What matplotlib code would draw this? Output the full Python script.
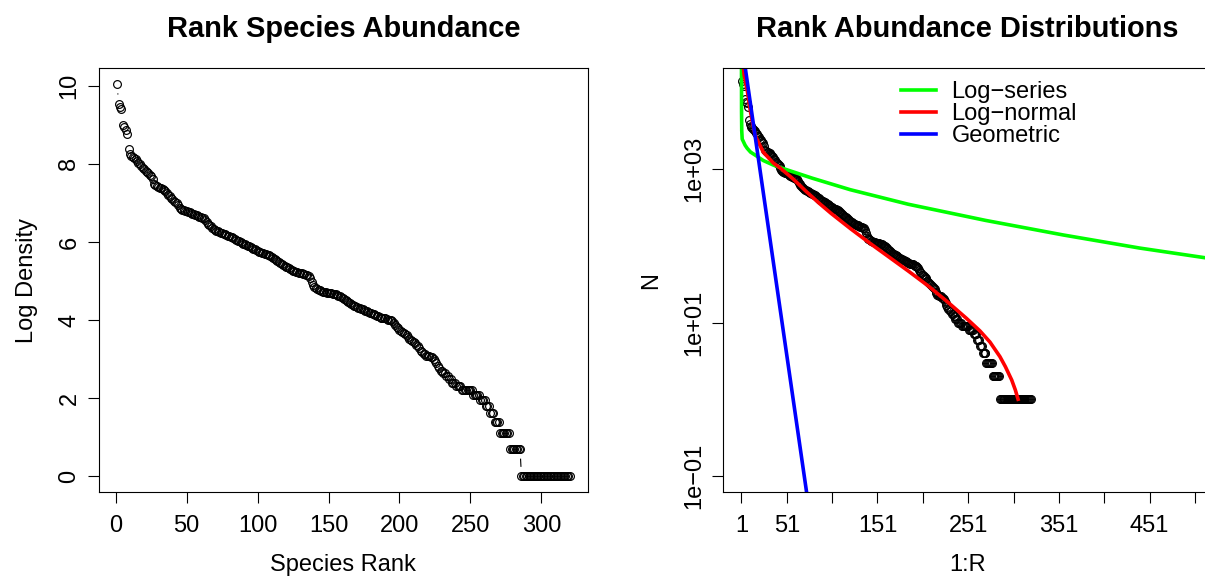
import numpy as np
import matplotlib
matplotlib.use("Agg")
import matplotlib.pyplot as plt
from matplotlib.ticker import NullLocator

plt.rcParams['font.family'] = ['Liberation Sans', 'DejaVu Sans']
plt.rcParams['font.size'] = 17

# abundance of each species, most to least common
abundance = [23000, 13800, 12900, 12200, 8100, 7550, 7130, 6440, 4350, 3820,
             3650, 3560, 3420, 3330, 3200, 3080, 2960, 2840, 2700, 2590,
             2470, 2400, 2330, 2250, 2170, 2020, 1760, 1720, 1680, 1650,
             1620, 1600, 1570, 1530, 1480, 1420, 1350, 1300, 1250, 1200,
             1160, 1120, 1080, 1040, 960, 940, 920, 905, 895, 885,
             875, 860, 845, 830, 815, 805, 795, 785, 770, 760,
             750, 735, 700, 665, 640, 620, 600, 580, 560, 545,
             535, 528, 520, 513, 505, 497, 490, 482, 475, 468,
             460, 452, 443, 435, 425, 417, 408, 400, 393, 386,
             380, 373, 367, 361, 354, 347, 340, 333, 327, 320,
             315, 310, 305, 301, 297, 294, 291, 285, 278, 272,
             266, 260, 253, 246, 240, 234, 228, 223, 218, 214,
             210, 206, 202, 198, 194, 191, 188, 186, 184, 182,
             180, 178, 176, 174, 172, 170, 162, 145, 133, 127,
             124, 121, 119, 117, 115, 113, 112, 111, 110, 110,
             109, 108, 107, 106, 105, 104, 102, 100, 98, 96,
             94, 92, 89, 87, 85, 82, 80, 79, 78, 76,
             75, 74, 73, 72, 70, 69, 68, 67, 66, 65,
             64, 63, 62, 61, 60, 59, 58, 58, 57, 57,
             56, 55, 55, 54, 53, 51, 48, 46, 44, 42,
             41, 40, 39, 38, 37, 35, 34, 33, 32, 31,
             30, 29, 28, 27, 25, 24, 23, 23, 22, 22,
             22, 21, 21, 20, 19, 18, 17, 16, 15, 15,
             14, 14, 13, 13, 12, 12, 11, 11, 11, 10,
             10, 10, 10, 9, 9, 9, 9, 9, 9, 9,
             9, 8, 8, 8, 8, 8, 7, 7, 7, 7,
             6, 6, 6, 5, 5, 5, 4, 4, 4, 4,
             3, 3, 3, 3, 3, 3, 3,
             2, 2, 2, 2, 2, 2, 2, 2] + [1] * 35

# fitted rank-abundance models
logseries_rank = [1, 1.1, 1.3, 1.8, 3, 5, 7.3, 11, 16.4, 25, 36.5, 51, 79, 121, 185, 270, 356, 440, 520]
logseries_n = [39800, 5620, 3160, 2450, 2290, 2040, 1860, 1660, 1510, 1290, 1120, 977, 759, 537, 347, 214, 138, 93.3, 67.6]

lognormal_rank = [2.5, 4, 7.3, 11, 16, 25, 36, 44, 58, 73, 88, 100, 121.5, 143, 164, 185, 207, 227,
                  249, 264, 275, 286, 292, 299, 303, 306]
lognormal_n = [25100, 16600, 10700, 5500, 2750, 1660, 1200, 1023, 741, 501, 347, 263, 166, 107, 70.8, 46.8,
               29.9, 19.1, 11.35, 7.76, 5.56, 3.59, 2.66, 1.78, 1.32, 1.0]

geometric_rank = [1, 80]
geometric_n = [45700, 0.0159]

model_names = ['Log\u2212series', 'Log\u2212normal', 'Geometric']
model_colors = ['#00ff00', '#ff0000', '#0000ff']

rank = np.arange(1, len(abundance) + 1)
log_density = np.log(abundance)

fig = plt.figure(figsize=(12.05, 5.81), dpi=100)
ax1 = fig.add_axes([0.0822, 0.1532, 0.4056, 0.7293])
ax2 = fig.add_axes([0.6003, 0.1532, 0.4056, 0.7293])

for ax in (ax1, ax2):
    for s in ax.spines.values():
        s.set_linewidth(0.8)
    ax.tick_params(direction='out', length=7.9, width=0.8, colors='black')

# left: log density by rank, points joined with gaps like type = "b"
ax1.plot(rank, log_density, 'o', ms=5.6, mfc='none', mec='black', mew=0.85)
ax1.margins(0.04)
ax1.set_xticks([0, 50, 100, 150, 200, 250, 300])
ax1.set_yticks([0, 2, 4, 6, 8, 10])
ax1.set_yticklabels(['0', '2', '4', '6', '8', '10'], rotation=90, va='center')
ax1.tick_params(axis='x', pad=9)
ax1.tick_params(axis='y', pad=5.5)
ax1.set_title('Rank Species Abundance', fontsize=20.9, fontweight='bold', y=1.073, va='center')
ax1.set_xlabel('Species Rank', va='center')
ax1.set_ylabel('Log Density', va='center')
ax1.xaxis.set_label_coords(0.5, -0.172)
ax1.yaxis.set_label_coords(-0.148, 0.5)

gap = 10.0
pts = ax1.transData.transform(np.column_stack([rank, log_density]))
inv = ax1.transData.inverted()
for p0, p1 in zip(pts[:-1], pts[1:]):
    d = np.hypot(*(p1 - p0))
    if d > 2 * gap:
        u = (p1 - p0) / d
        seg = inv.transform(np.array([p0 + u * gap, p1 - u * gap]))
        ax1.plot(seg[:, 0], seg[:, 1], color='black', lw=0.8)

# right: abundance on a log axis with the three fitted models
ax2.plot(rank, abundance, 'o', ms=5.6, mfc='none', mec='black', mew=0.85)
for r, n, name, c in zip([logseries_rank, lognormal_rank, geometric_rank],
                         [logseries_n, lognormal_n, geometric_n], model_names, model_colors):
    ax2.plot(r, n, color=c, lw=2.6, label=name)
ax2.set_yscale('log')
ax2.set_xlim(1 - 0.04 * 499, 500 + 0.04 * 499)
ax2.set_ylim(10 ** -1.208, 10 ** 4.312)
xt = np.arange(1, 502, 50)
ax2.set_xticks(xt)
ax2.set_xticklabels([str(v) if v in (1, 51, 151, 251, 351, 451) else '' for v in xt])
ax2.set_yticks([0.1, 10, 1000])
ax2.set_yticklabels(['1e\u221201', '1e+01', '1e+03'], rotation=90, va='center')
ax2.yaxis.set_minor_locator(NullLocator())
ax2.tick_params(axis='x', pad=9)
ax2.tick_params(axis='y', pad=5.5)
ax2.set_title('Rank Abundance Distributions', fontsize=20.9, fontweight='bold', y=1.073, va='center')
ax2.set_xlabel('1:R', va='center')
ax2.set_ylabel('N', va='center')
ax2.xaxis.set_label_coords(0.5, -0.172)
ax2.yaxis.set_label_coords(-0.148, 0.5)
ax2.legend(loc='upper left', bbox_to_anchor=(0.3636, 0.970), frameon=False, borderpad=0,
           borderaxespad=0, handlelength=1.5, handletextpad=0.64, labelspacing=0.0)

fig.savefig('out.png', dpi=100)
